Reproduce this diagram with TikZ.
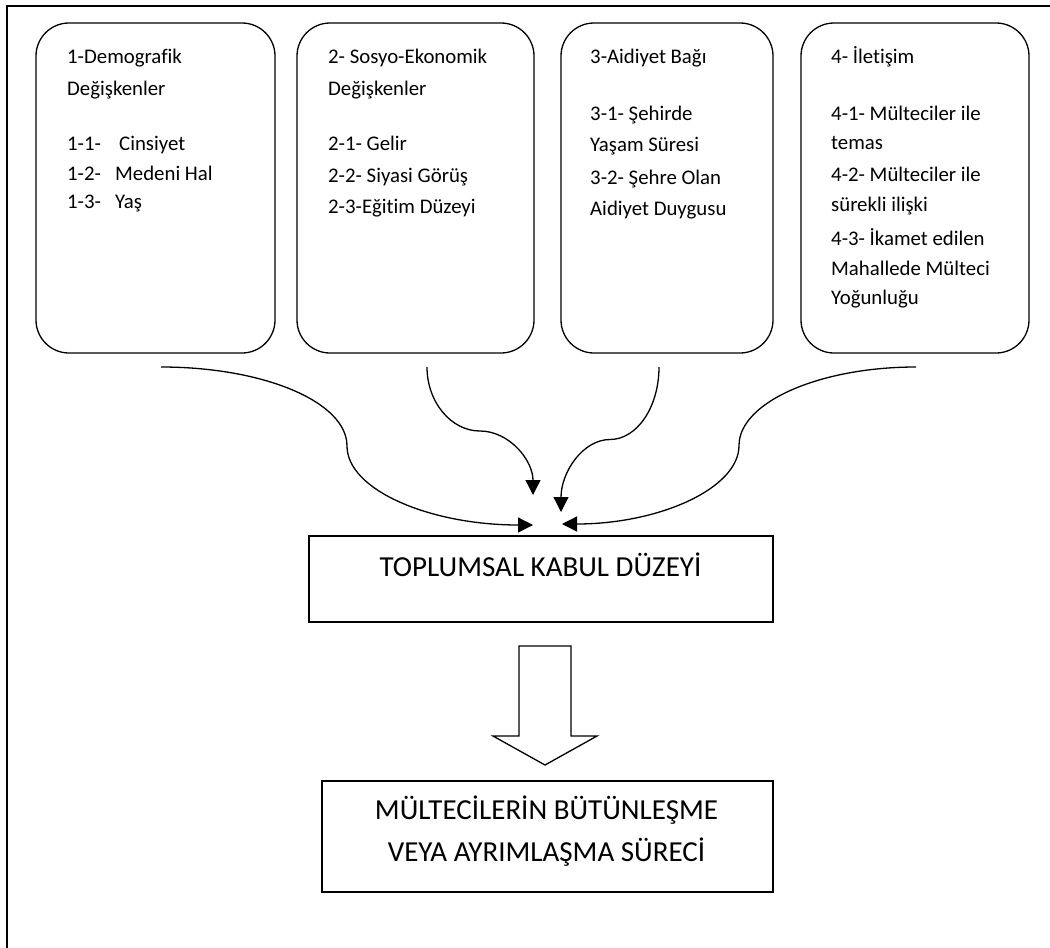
\documentclass[tikz,border=0pt]{standalone}
\usepackage{fontspec}
\setmainfont{Carlito}[Ligatures={TeX,NoCommon}]
\usetikzlibrary{arrows.meta}
\begin{document}
\begin{tikzpicture}[x=1bp,y=-1bp,
  rbox/.style={draw,line width=1.3bp,rounded corners=33bp,inner sep=0pt},
  sbox/.style={draw,line width=1.3bp,inner sep=0pt},
  ln/.style={anchor=base west,inner sep=0pt,font=\fontsize{20.8bp}{25bp}\selectfont},
  big/.style={anchor=base,inner sep=0pt,font=\fontsize{29bp}{35bp}\selectfont},
  flow/.style={line width=1.3bp,-{Triangle[length=15bp,width=15bp]}},
  hollow/.style={line width=1.3bp,fill=white,line join=miter}
]
\useasboundingbox (0,0) rectangle (1050,948);
% outer frame (cut off at right and bottom)
\draw[line width=2bp] (7,948) -- (7,6) -- (1050,6);

% top boxes
\node[rbox,minimum width=239bp,minimum height=330bp] (b1) at (155.5,188) {};
\node[rbox,minimum width=237bp,minimum height=330bp] (b2) at (415.5,188) {};
\node[rbox,minimum width=212bp,minimum height=330bp] (b3) at (667,188) {};
\node[rbox,minimum width=228bp,minimum height=330bp] (b4) at (915,188) {};

% box 1 text
\node[ln] (t1a) at (67,63) {1-Demografik};
\node[ln] (t1b) at (67,95) {Değişkenler};
\node[ln] (t1c) at (67,150.7) {\makebox[52bp][l]{1-1-}Cinsiyet};
\node[ln] (t1d) at (67,180) {\makebox[48bp][l]{1-2-}Medeni Hal};
\node[ln] (t1e) at (67,208) {\makebox[48bp][l]{1-3-}Yaş};

% box 2 text
\node[ln] (t2a) at (328,63) {2- Sosyo-Ekonomik};
\node[ln] (t2b) at (328,95) {Değişkenler};
\node[ln] (t2c) at (328,150.7) {2-1- Gelir};
\node[ln] (t2d) at (328,182.7) {2-2- Siyasi Görüş};
\node[ln] (t2e) at (328,213.5) {2-3-Eğitim Düzeyi};

% box 3 text
\node[ln] (t3a) at (590,63.5) {3-Aidiyet Bağı};
\node[ln] (t3b) at (590,120) {3-1- Şehirde};
\node[ln] (t3c) at (590,151) {Yaşam Süresi};
\node[ln] (t3d) at (590,184) {3-2- Şehre Olan};
\node[ln] (t3e) at (590,215) {Aidiyet Duygusu};

% box 4 text
\node[ln] (t4a) at (831,63.3) {4- İletişim};
\node[ln] (t4b) at (831,120) {4-1- Mülteciler ile};
\node[ln] (t4c) at (831,149) {temas};
\node[ln] (t4d) at (831,181.7) {4-2- Mülteciler ile};
\node[ln] (t4e) at (831,211.7) {sürekli ilişki};
\node[ln] (t4f) at (831,245) {4-3- İkamet edilen};
\node[ln] (t4g) at (831,275) {Mahallede Mülteci};
\node[ln] (t4h) at (831,304) {Yoğunluğu};

% bottom boxes
\node[sbox,minimum width=464bp,minimum height=86bp] (kabul) at (541,579) {};
\node[big] (kabulT) at (540.5,576) {TOPLUMSAL KABUL DÜZEYİ};
\node[sbox,minimum width=451bp,minimum height=111bp] (surec) at (547.5,836.5) {};
\node[big] (surecA) at (546.5,819) {MÜLTECİLERİN BÜTÜNLEŞME};
\node[big] (surecB) at (546.5,861) {VEYA AYRIMLAŞMA SÜRECİ};

% curved arrows
\coordinate (s1) at (161,367); \coordinate (m1) at (347,446); \coordinate (e1) at (533,525);
\coordinate (s2) at (427,367); \coordinate (m2) at (480,431); \coordinate (e2) at (533,495);
\coordinate (s3) at (659,367); \coordinate (m3) at (610,439.5); \coordinate (e3) at (561,512);
\coordinate (s4) at (916,367); \coordinate (m4) at (739,445.5); \coordinate (e4) at (562,524);

\draw[flow] (s1) .. controls +(103,0) and +(0,-44) .. (m1) .. controls +(0,44) and +(-103,0) .. (e1);
\draw[flow] (s2) .. controls +(0,35) and +(-29,0) .. (m2) .. controls +(29,0) and +(0,-35) .. (e2);
\draw[flow] (s3) .. controls +(0,40) and +(27,0) .. (m3) .. controls +(-27,0) and +(0,-40) .. (e3);
\draw[flow] (s4) .. controls +(-97,0) and +(0,-43) .. (m4) .. controls +(0,43) and +(97,0) .. (e4);

% hollow block arrow between the two bottom boxes
\draw[hollow] (519,646) -- (571,646) -- (571,736) -- (597,736) -- (545,765) -- (493,736) -- (519,736) -- cycle;
\end{tikzpicture}
\end{document}
